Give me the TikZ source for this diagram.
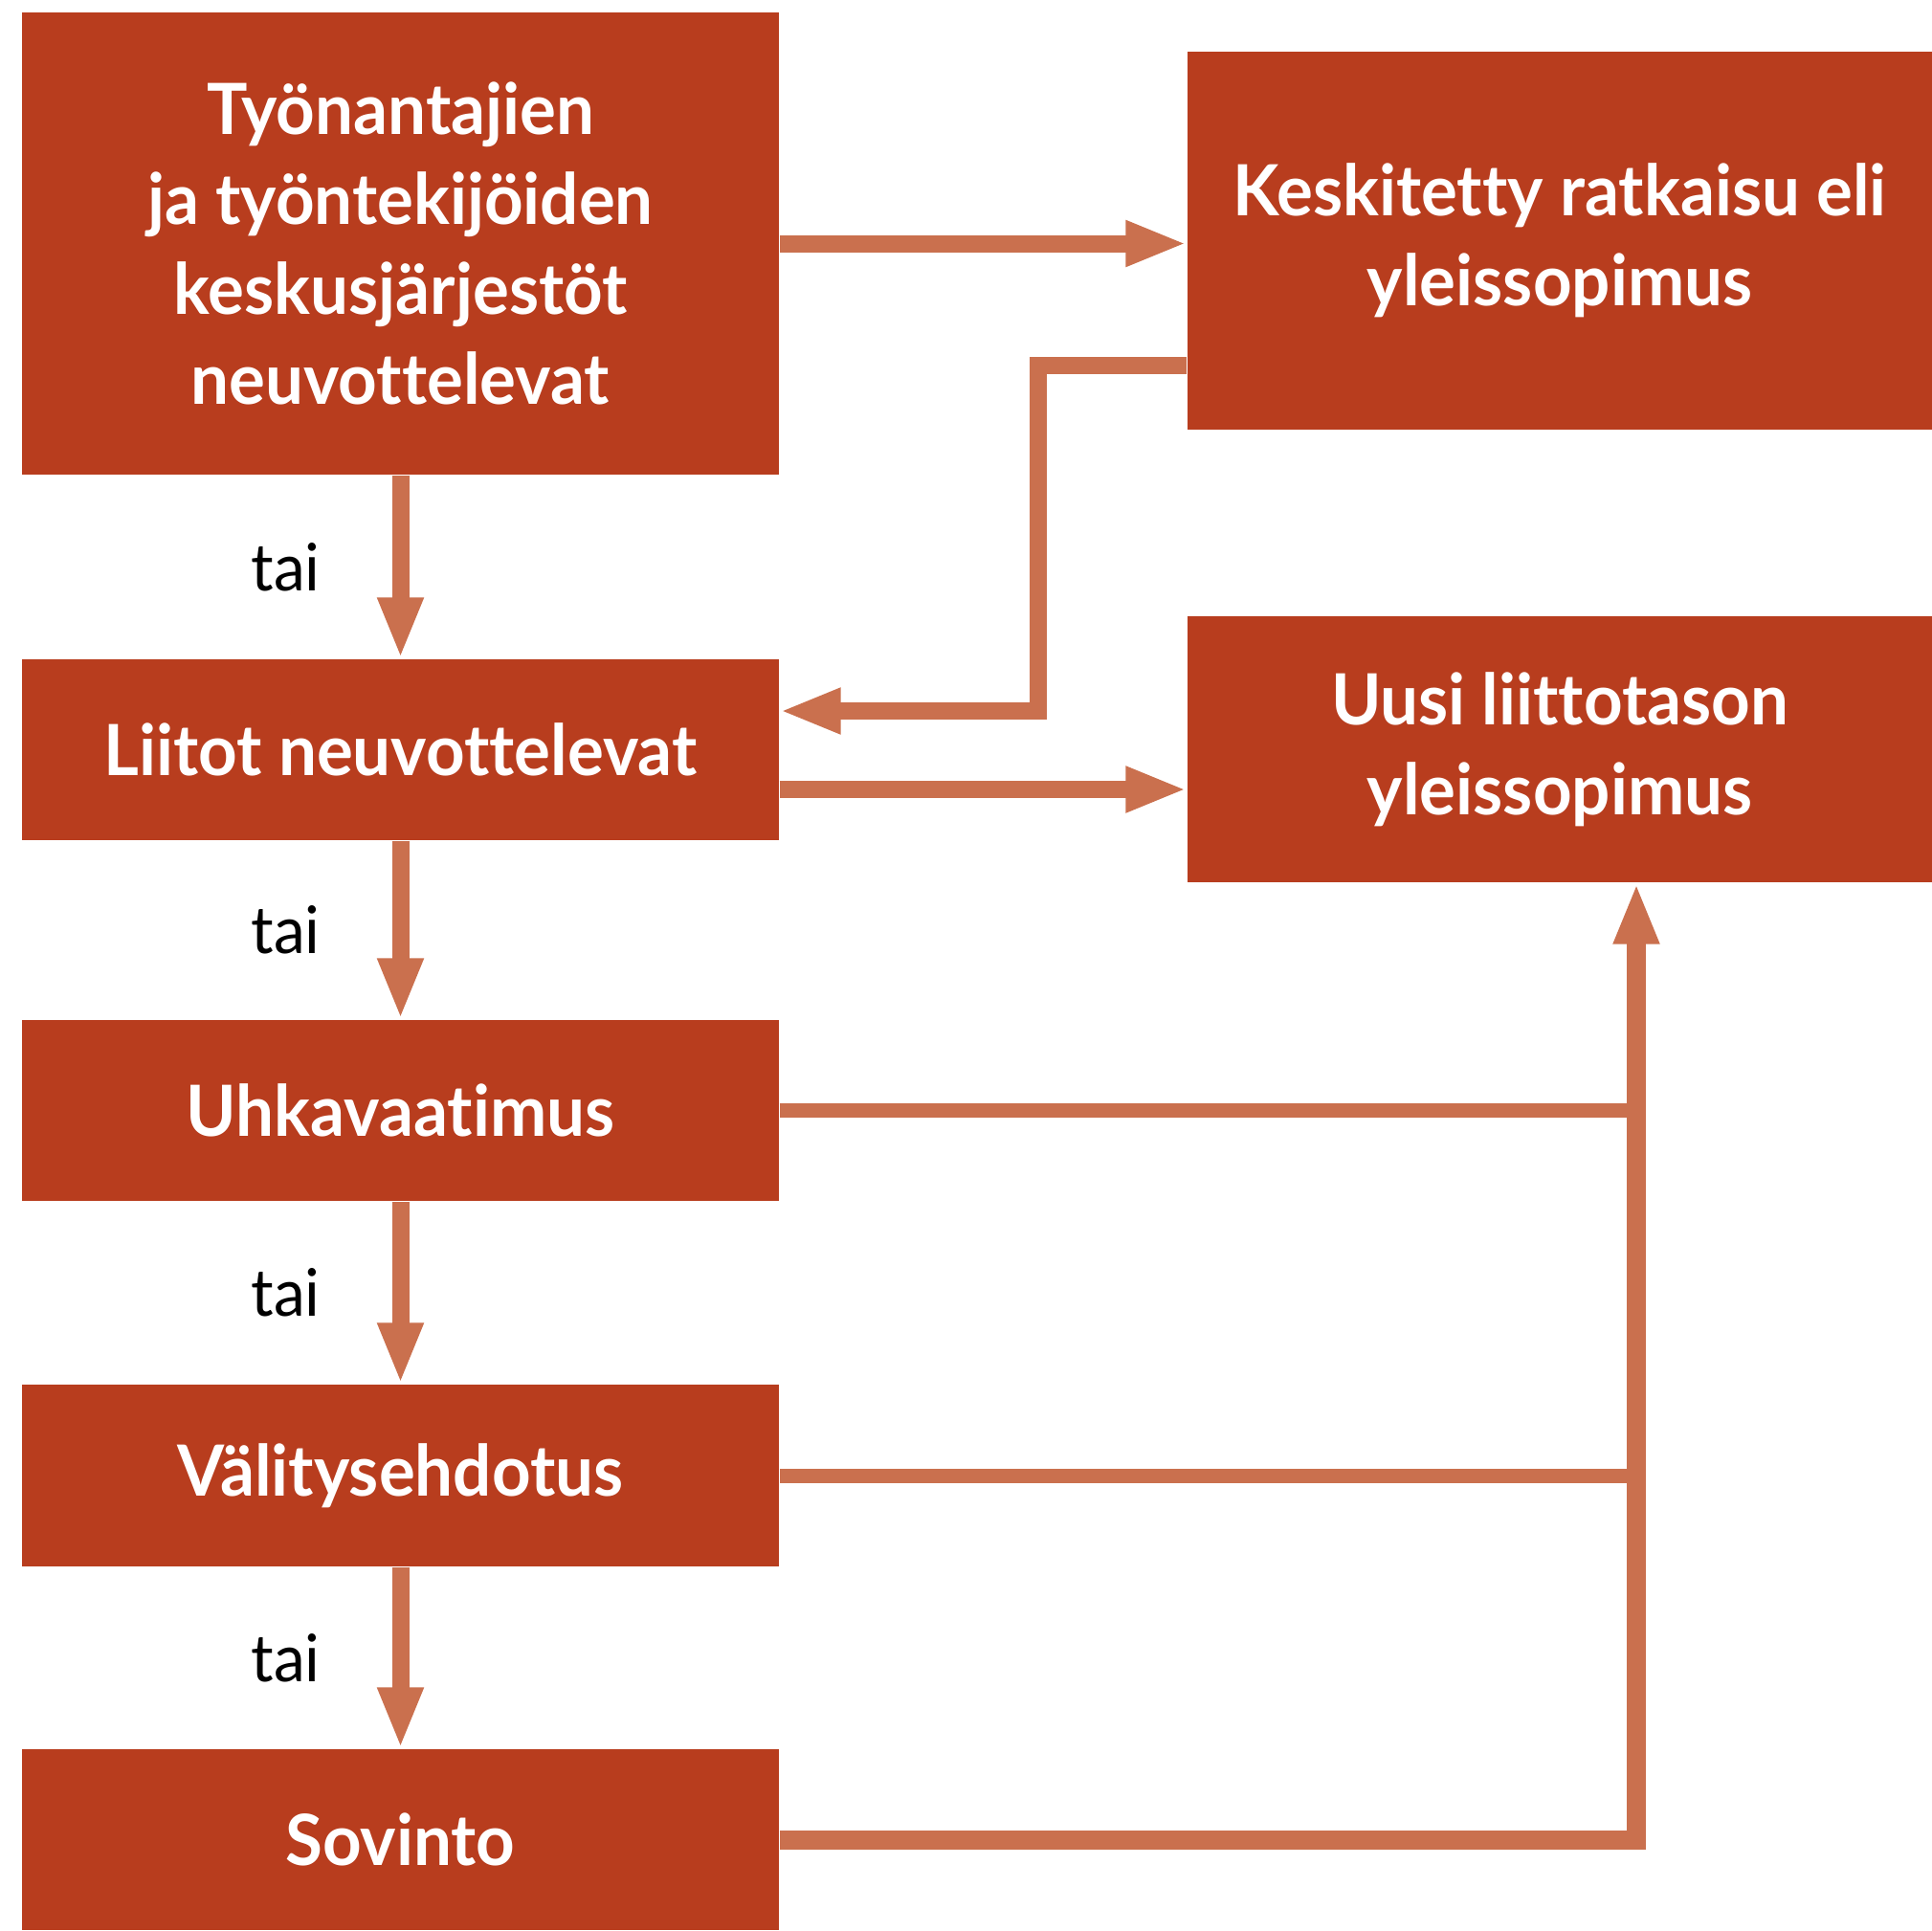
\documentclass[tikz,border=0pt]{standalone}
\usepackage{fontspec}
\setmainfont{Lato}[Ligatures={NoCommon,NoContextual}, FakeStretch=0.96]
\usetikzlibrary{arrows.meta,positioning}

\definecolor{boxred}{RGB}{184,61,30}
\definecolor{arrowred}{RGB}{202,112,78}

\begin{document}
\begin{tikzpicture}[
    box/.style={fill=boxred, text=white, inner sep=0pt, align=center,
      minimum width=7.91cm, font=\bfseries\fontsize{21}{26.7}\selectfont},
    flow/.style={draw=arrowred, line width=0.18cm,
      -{Triangle[length=0.64cm,width=0.44cm]}},
    feed/.style={draw=arrowred, line width=0.15cm},
    ortext/.style={inner sep=0pt, font=\fontsize{19.5}{24}\selectfont}
  ]
  \useasboundingbox (0,0) rectangle (20.19,-20.17);
  % left column
  \node[box, minimum height=4.83cm] (keskus) at (4.185,-2.545)
    {Työnantajien\\ja työntekijöiden\\keskusjärjestöt\\neuvottelevat};
  \node[box, minimum height=1.89cm] (liitot) at (4.185,-7.835) {Liitot neuvottelevat};
  \node[box, minimum height=1.89cm] (uhka) at (4.185,-11.605) {Uhkavaatimus};
  \node[box, minimum height=1.90cm] (valitys) at (4.185,-15.42) {Välitysehdotus};
  \node[box, minimum height=1.89cm] (sovinto) at (4.185,-19.225) {Sovinto};
  % right column
  \node[box, minimum width=7.78cm, minimum height=3.95cm] (yleis) at (16.30,-2.515)
    {Keskitetty ratkaisu eli\\yleissopimus};
  \node[box, minimum width=7.78cm, minimum height=2.78cm] (uusi) at (16.30,-7.83)
    {Uusi liittotason\\yleissopimus};
  \coordinate (runko) at ([xshift=0.8cm]uusi.south);

  % down the left column
  \draw[flow] (keskus) -- node[ortext, left=0.75cm] (tai1) {tai} (liitot);
  \draw[flow] (liitot) -- node[ortext, left=0.75cm] (tai2) {tai} (uhka);
  \draw[flow] (uhka) -- node[ortext, left=0.75cm] (tai3) {tai} (valitys);
  \draw[flow] (valitys) -- node[ortext, left=0.75cm] (tai4) {tai} (sovinto);

  % across
  \draw[flow] (keskus.east) -- (keskus.east -| yleis.west);
  \draw[flow] ([yshift=-1.305cm]yleis.west)
    -| ([xshift=2.7cm,yshift=0.405cm]liitot.east) -- ([yshift=0.405cm]liitot.east);
  \draw[flow] ([yshift=-0.415cm]liitot.east) -- ([yshift=-0.415cm]liitot.east -| yleis.west);
  \draw[feed] (uhka.east) -- (uhka.east -| runko);
  \draw[feed] (valitys.east) -- (valitys.east -| runko);
  \draw[flow, line width=0.2cm] (sovinto.east) -| (runko);
\end{tikzpicture}
\end{document}
